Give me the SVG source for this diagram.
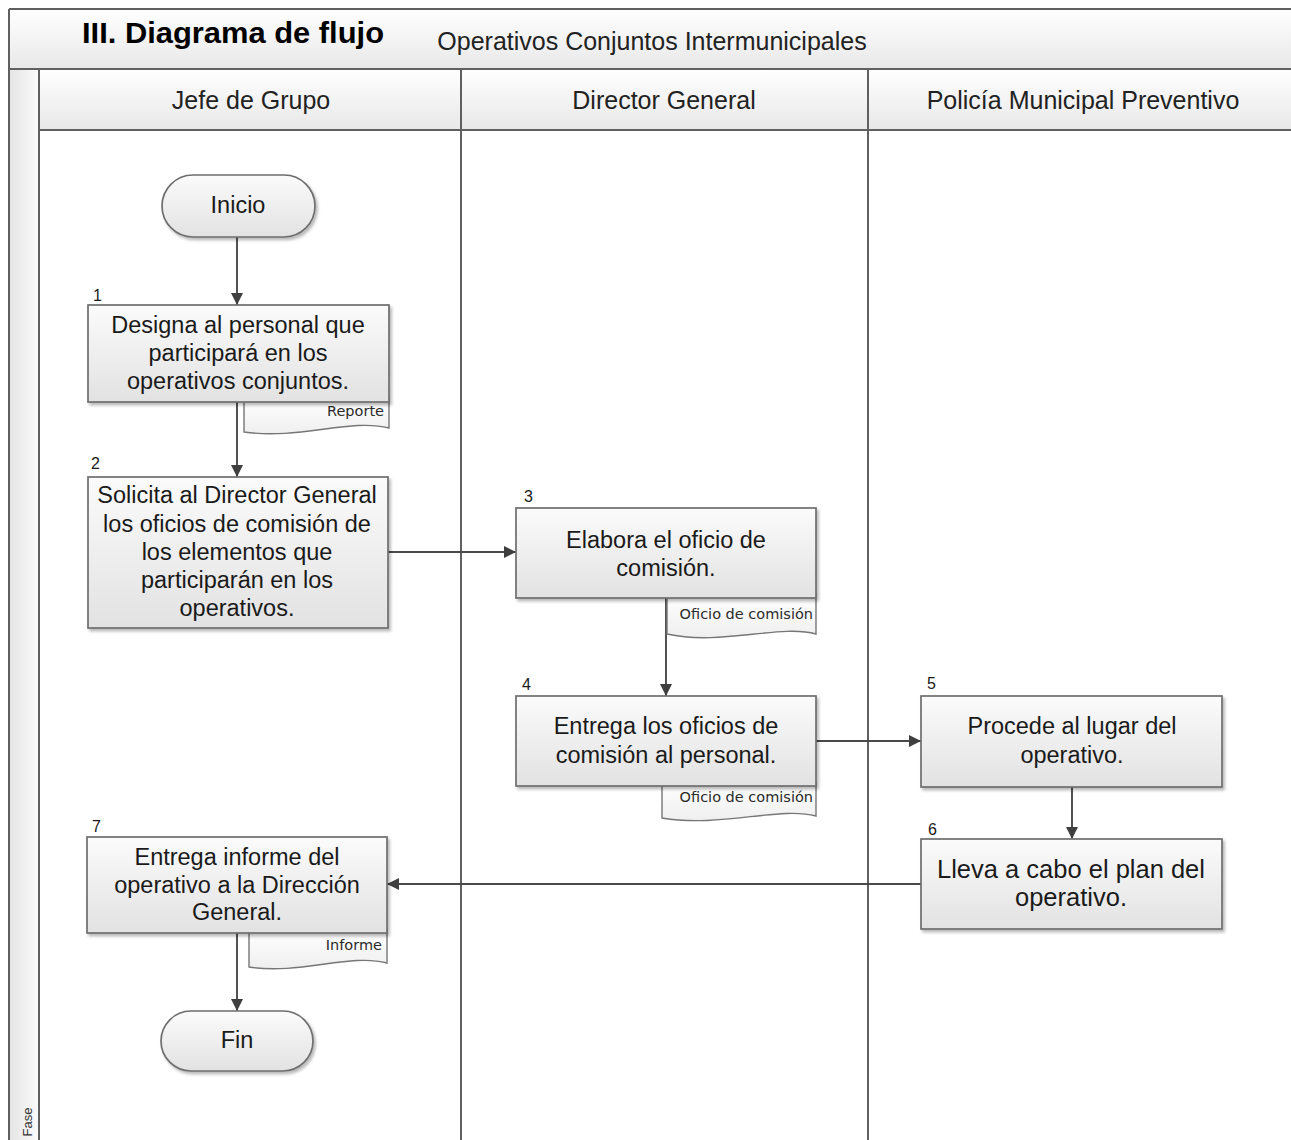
<svg xmlns="http://www.w3.org/2000/svg" width="1291" height="1140" viewBox="0 0 1291 1140">
  <style>
    .frame { stroke: #606060; stroke-width: 2; fill: none; }
    .box { fill: url(#boxFill); stroke: #6e6e6e; stroke-width: 1.7; filter: url(#shadow); }
    .doc { fill: url(#docFill); stroke: #767676; stroke-width: 1.4; }
    .txt { font-family: "Liberation Sans", Arial, sans-serif; fill: #1a1a1a; text-anchor: middle; }
    .box-txt { font-size: 23.5px; }
    .lane-txt { font-family: "Liberation Sans", Arial, sans-serif; font-size: 25px; fill: #222; text-anchor: middle; }
    .num { font-family: "Liberation Sans", Arial, sans-serif; font-size: 16px; fill: #1a1a1a; }
    .doc-txt { font-family: "DejaVu Sans", sans-serif; font-size: 14.5px; fill: #2a2a2a; text-anchor: end; }
    .conn { stroke: #4a4a4a; stroke-width: 1.9; fill: none; marker-end: url(#arrow); }
  </style>
  <defs>
    <linearGradient id="boxFill" x1="0" y1="0" x2="0" y2="1">
      <stop offset="0" stop-color="#fbfbfb"/>
      <stop offset="1" stop-color="#e2e2e2"/>
    </linearGradient>
    <linearGradient id="docFill" x1="0" y1="0" x2="0" y2="1">
      <stop offset="0" stop-color="#ffffff"/>
      <stop offset="1" stop-color="#efefef"/>
    </linearGradient>
    <linearGradient id="hdrFill" x1="0" y1="0" x2="0" y2="1">
      <stop offset="0" stop-color="#ffffff"/>
      <stop offset="1" stop-color="#e8e8e8"/>
    </linearGradient>
    <linearGradient id="faseFill" x1="0" y1="0" x2="1" y2="0">
      <stop offset="0" stop-color="#e4e4e4"/>
      <stop offset="1" stop-color="#fbfbfb"/>
    </linearGradient>
    <filter id="shadow" x="-5%" y="-5%" width="115%" height="120%">
      <feDropShadow dx="2" dy="2.5" stdDeviation="1.6" flood-color="#000" flood-opacity="0.28"/>
    </filter>
    <marker id="arrow" viewBox="0 0 10 10" refX="10" refY="5" markerWidth="13" markerHeight="12" markerUnits="userSpaceOnUse" orient="auto">
      <path d="M0,0 L10,5 L0,10 z" fill="#3f3f3f"/>
    </marker>
  </defs>

  <!-- swimlane frame -->
  <g id="lanes">
    <rect x="0" y="0" width="1291" height="1140" fill="#ffffff"/>
    <rect x="9" y="9" width="1282" height="60" fill="url(#hdrFill)"/>
    <rect x="39" y="69" width="1252" height="61" fill="url(#hdrFill)"/>
    <rect x="9" y="69" width="30" height="1071" fill="url(#faseFill)"/>
    <path class="frame" d="M9,9 H1291 M9,69 H1291 M39,130 H1291 M9,9 V1140 M39,69 V1140 M461,69 V1140 M868,69 V1140"/>
    <text x="82" y="43" font-family="Liberation Sans, Arial, sans-serif" font-weight="bold" font-size="30" fill="#000" textLength="302" lengthAdjust="spacingAndGlyphs">III. Diagrama de flujo</text>
    <text x="652" y="50" class="lane-txt" font-size="25.5">Operativos Conjuntos Intermunicipales</text>
    <text x="251" y="109" class="lane-txt">Jefe de Grupo</text>
    <text x="664" y="109" class="lane-txt">Director General</text>
    <text x="1083" y="109" class="lane-txt">Policía Municipal Preventivo</text>
    <text transform="translate(32,1122) rotate(-90)" font-family="Liberation Sans, Arial, sans-serif" font-size="13" fill="#333" text-anchor="middle">Fase</text>
  </g>

  <!-- connectors -->
  <g id="connectors">
    <path class="conn" d="M237,237 V305"/>
    <path class="conn" d="M237,402 V477"/>
    <path class="conn" d="M388,552 H516"/>
    <path class="conn" d="M666,598 V696"/>
    <path class="conn" d="M816,741 H921"/>
    <path class="conn" d="M1072,787 V839"/>
    <path class="conn" d="M921,884 H387"/>
    <path class="conn" d="M237,933 V1011"/>
  </g>

  <!-- start -->
  <g id="inicio">
    <rect class="box" x="162" y="175" width="153" height="62" rx="31"/>
    <text class="txt box-txt" x="238" y="213">Inicio</text>
  </g>

  <!-- step 1 -->
  <g id="step1">
    <path class="doc" d="M244,398 H389 V428 C350,418 300,440 244,432 Z"/>
    <text class="doc-txt" x="384" y="416">Reporte</text>
    <rect class="box" x="88" y="305" width="301" height="97"/>
    <text class="num" x="93" y="301">1</text>
    <text class="txt box-txt" x="238" y="333">Designa al personal que</text>
    <text class="txt box-txt" x="238" y="361">participará en los</text>
    <text class="txt box-txt" x="238" y="389">operativos conjuntos.</text>
  </g>

  <!-- step 2 -->
  <g id="step2">
    <rect class="box" x="88" y="477" width="300" height="151"/>
    <text class="num" x="91" y="469">2</text>
    <text class="txt box-txt" x="237" y="503">Solicita al Director General</text>
    <text class="txt box-txt" x="237" y="532">los oficios de comisión de</text>
    <text class="txt box-txt" x="237" y="560">los elementos que</text>
    <text class="txt box-txt" x="237" y="588">participarán en los</text>
    <text class="txt box-txt" x="237" y="616">operativos.</text>
  </g>

  <!-- step 3 -->
  <g id="step3">
    <path class="doc" d="M667,594 H816 V634 C780,624 720,646 667,634 Z"/>
    <text class="doc-txt" x="813" y="619">Oficio de comisión</text>
    <rect class="box" x="516" y="508" width="300" height="90"/>
    <text class="num" x="524" y="502">3</text>
    <text class="txt box-txt" x="666" y="548">Elabora el oficio de</text>
    <text class="txt box-txt" x="666" y="576">comisión.</text>
  </g>

  <!-- step 4 -->
  <g id="step4">
    <path class="doc" d="M662,782 H816 V816 C780,806 720,828 662,818 Z"/>
    <text class="doc-txt" x="813" y="802">Oficio de comisión</text>
    <rect class="box" x="516" y="696" width="300" height="90"/>
    <text class="num" x="522" y="690">4</text>
    <text class="txt box-txt" x="666" y="734">Entrega los oficios de</text>
    <text class="txt box-txt" x="666" y="763">comisión al personal.</text>
  </g>

  <!-- step 5 -->
  <g id="step5">
    <rect class="box" x="921" y="696" width="301" height="91"/>
    <text class="num" x="927" y="689">5</text>
    <text class="txt box-txt" x="1072" y="734">Procede al lugar del</text>
    <text class="txt box-txt" x="1072" y="763">operativo.</text>
  </g>

  <!-- step 6 -->
  <g id="step6">
    <rect class="box" x="921" y="839" width="301" height="90"/>
    <text class="num" x="928" y="835">6</text>
    <text class="txt" font-size="25.5" x="1071" y="878">Lleva a cabo el plan del</text>
    <text class="txt" font-size="25.5" x="1071" y="906">operativo.</text>
  </g>

  <!-- step 7 -->
  <g id="step7">
    <path class="doc" d="M249,929 H387 V963 C350,953 300,975 249,967 Z"/>
    <text class="doc-txt" x="382" y="950">Informe</text>
    <rect class="box" x="87" y="837" width="300" height="96"/>
    <text class="num" x="92" y="832">7</text>
    <text class="txt box-txt" x="237" y="865">Entrega informe del</text>
    <text class="txt box-txt" x="237" y="893">operativo a la Dirección</text>
    <text class="txt box-txt" x="237" y="920">General.</text>
  </g>

  <!-- end -->
  <g id="fin">
    <rect class="box" x="161" y="1011" width="152" height="60" rx="30"/>
    <text class="txt box-txt" x="237" y="1048">Fin</text>
  </g>
</svg>
